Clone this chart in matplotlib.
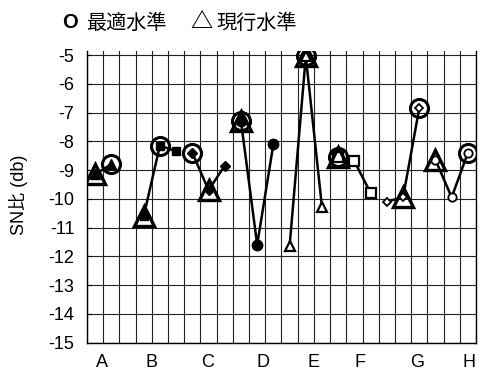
import matplotlib
matplotlib.use("Agg")
import matplotlib.pyplot as plt

plt.rcParams['font.family'] = ['Liberation Sans', 'Noto Sans CJK JP', 'DejaVu Sans']

# ---------------------------
# Factor effect data (SN ratio per level)
# ---------------------------
factors = ["A", "B", "C", "D", "E", "F", "G", "H"]
sn_A = [-9.15, -8.8]
sn_B = [-10.6, -8.15, -8.35]
sn_C = [-8.4, -9.7, -8.85]
sn_D = [-7.3, -11.6, -8.1]
sn_E = [-11.65, -5.05, -10.3]
sn_F = [-8.55, -8.7, -9.8]
sn_G = [-10.1, -9.95, -6.85]
sn_H = [-8.65, -9.95, -8.4]
sn_values = [sn_A, sn_B, sn_C, sn_D, sn_E, sn_F, sn_G, sn_H]

# level index (0-based) of optimal and current setting per factor
best_level = [1, 1, 0, 0, 1, 0, 2, 2]
current_level = [0, 0, 1, 0, 1, 0, 1, 0]

y_ticks = list(range(-15, -4))

# marker style per factor
styles = [
    dict(marker="^", ms=7, mfc="black"),
    dict(marker="s", ms=6, mfc="black"),
    dict(marker="D", ms=5.5, mfc="black"),
    dict(marker="o", ms=7.5, mfc="black"),
    dict(marker="^", ms=7, mfc="white", mew=1.6),
    dict(marker="s", ms=6.5, mfc="white", mew=1.6),
    dict(marker="D", ms=4.5, mfc="white", mew=1.3),
    dict(marker="o", ms=6, mfc="white", mew=1.3),
]

# ---------------------------
# Plot
# ---------------------------
fig = plt.figure(figsize=(4.99, 3.70), dpi=100)
ax = fig.add_axes([0.1743, 0.0743, 0.7796, 0.7879])

# slot positions: A takes two slots plus an empty one, others three
pos = 0
for vals, st, b, c in zip(sn_values, styles, best_level, current_level):
    xs = [pos + i + 0.5 for i in range(len(vals))]
    ax.plot(xs, vals, color="black", lw=1.8, mec="black", zorder=3, **st)
    ax.plot(xs[b], vals[b], marker="o", ms=13, mfc="none", mec="black",
            mew=2.2, ls="none", zorder=4)
    ax.plot(xs[c], vals[c], marker="^", ms=15, mfc="none", mec="black",
            mew=2.4, ls="none", zorder=4)
    pos += 3

ax.set_xlim(0, 24)
ax.set_ylim(-15, -4.86)

ax.set_xticks(range(25), minor=True)
ax.set_xticks([0.9, 3.95, 7.45, 10.85, 13.95, 16.85, 20.35, 23.55])
ax.set_xticklabels(factors)
ax.set_yticks(y_ticks)
ax.set_yticklabels([str(v) for v in y_ticks])

ax.grid(True, which="minor", axis="x", color="#222222", lw=0.8)
ax.grid(True, which="major", axis="y", color="#222222", lw=0.8)
ax.set_axisbelow(True)

ax.tick_params(axis="x", which="both", length=0, pad=8, labelsize=13)
ax.tick_params(axis="y", direction="in", length=3, pad=9, labelsize=13)

ax.spines["top"].set_visible(False)
for side in ["left", "bottom", "right"]:
    ax.spines[side].set_color("black")
    ax.spines[side].set_linewidth(1.0)

fig.text(19 / 499, 1 - 195 / 370, "SN比 (db)", rotation=90, ha="center",
         va="center", fontsize=13)

# legend-like header
ty = 1 - 23 / 370
fig.text(62 / 499, ty, "O", fontsize=14.5, fontweight="bold", va="center")
fig.text(86 / 499, ty, "最適水準", fontsize=14.5, va="center")
fig.text(190 / 499, ty, "△", fontsize=16, fontweight="bold", va="center")
fig.text(216 / 499, ty, "現行水準", fontsize=14.5, va="center")

fig.savefig("out.png", dpi=100)
